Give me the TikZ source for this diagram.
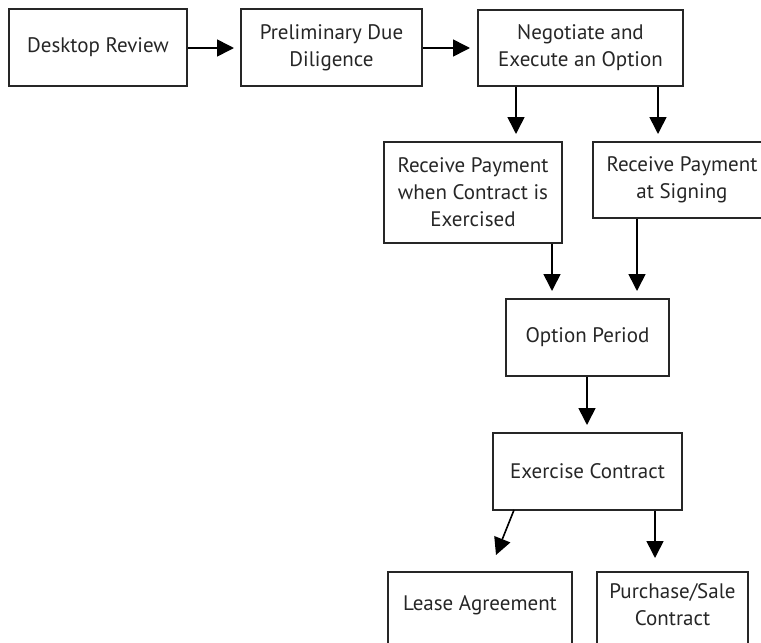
\documentclass[tikz,border=0pt]{standalone}
\usepackage{fontspec}
\setmainfont{PT Sans}
\usetikzlibrary{arrows.meta}
\tikzset{
  box/.style={draw=black!85, line width=2pt, rectangle, align=center, inner sep=0pt,
    font=\fontsize{21pt}{27pt}\selectfont, text=black!85},
  arr/.style={draw=black, line width=1.6pt, -{Triangle[length=17pt,width=17pt]}},
  lbl/.style={align=center, inner sep=0pt, font=\fontsize{21pt}{27pt}\selectfont, text=black!85}
}
\begin{document}
\begin{tikzpicture}[x=1pt,y=-1pt]
\useasboundingbox (0,0) rectangle (761,643);
\clip (0,0) rectangle (761,643);
\node[box, minimum width=178pt, minimum height=77pt] (n1) at (98,47.5) {Desktop Review};
\node[box, minimum width=181pt, minimum height=77pt] (n2) at (331.5,47.5) {Preliminary Due\\Diligence};
\node[box, minimum width=205pt, minimum height=76pt] (n3) at (580.5,47.5) {Negotiate and\\Execute an Option};
\node[box, minimum width=178pt, minimum height=101pt] (n4) at (473,192.5) {Receive Payment\\when Contract is\\Exercised};
\node[box, minimum width=178pt, minimum height=76pt] (n5) at (682,180) {Receive Payment\\at Signing};
\node[box, minimum width=163pt, minimum height=77pt] (n6) at (587.5,337.5) {Option Period};
\node[box, minimum width=189pt, minimum height=77pt] (n7) at (587.5,471.5) {Exercise Contract};
\node[box, minimum width=184pt, minimum height=90pt] (n8) at (480,617) {};
\node[lbl] (t8) at (480,605) {Lease Agreement};
\node[box, minimum width=151pt, minimum height=90pt] (n9) at (672.5,617) {};
\node[lbl] (t9) at (672.5,605) {Purchase/Sale\\Contract};

\coordinate (a12) at (234,48);
\coordinate (a23) at (470,48);
\coordinate (a34) at (516,134);
\coordinate (a35) at (658,134);
\coordinate (a46) at (552,291);
\coordinate (a56) at (637,291);
\coordinate (a67) at (587,425);
\coordinate (a78) at (496,555);
\coordinate (a79) at (655,558);

\draw[arr] (n1.east |- a12) -- (a12);
\draw[arr] (n2.east |- a23) -- (a23);
\draw[arr] (a34 |- n3.south) -- (a34);
\draw[arr] (a35 |- n3.south) -- (a35);
\draw[arr] (a46 |- n4.south) -- (a46);
\draw[arr] (a56 |- n5.south) -- (a56);
\draw[arr] (a67 |- n6.south) -- (a67);
\draw[arr] (514,510) -- (a78);
\draw[arr] (a79 |- n7.south) -- (a79);
\end{tikzpicture}
\end{document}
